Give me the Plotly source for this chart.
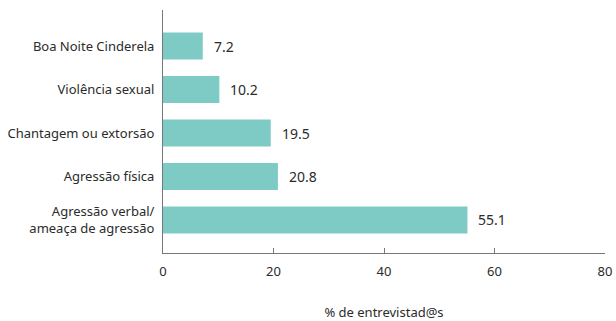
import plotly.graph_objects as go

# Categories listed bottom-to-top as drawn on the y axis
categories = [
    "Agressão verbal/<br>ameaça de agressão",
    "Agressão física",
    "Chantagem ou extorsão",
    "Violência sexual",
    "Boa Noite Cinderela",
]
values = [55.1, 20.8, 19.5, 10.2, 7.2]
x_ticks = [0, 20, 40, 60, 80]

bar_color = "#7ecbc6"
text_color = "#2b2b2b"
axis_color = "#777777"
font_family = "Noto Sans, Open Sans, sans-serif"

fig = go.Figure(
    go.Bar(
        x=values,
        y=categories,
        orientation="h",
        marker=dict(color=bar_color, line=dict(width=0)),
        width=0.62,
        hoverinfo="skip",
    )
)

# Value labels placed just past the end of each bar
for cat, val in zip(categories, values):
    fig.add_annotation(
        x=val, y=cat, text=f"{val:.1f}", showarrow=False,
        xanchor="left", yanchor="middle", xshift=9,
        font=dict(size=14, color=text_color, family=font_family),
    )

fig.update_layout(
    width=616, height=321,
    margin=dict(l=163, r=11, t=10, b=68),
    paper_bgcolor="white", plot_bgcolor="white",
    showlegend=False,
    font=dict(family=font_family, color=text_color, size=13),
    xaxis=dict(
        range=[0, 80], tickvals=x_ticks, ticktext=[str(t) for t in x_ticks],
        automargin=False,
        showgrid=False, zeroline=False,
        showline=True, linecolor=axis_color, linewidth=1,
        ticks="inside", ticklen=5, tickcolor=axis_color,
        ticklabelstandoff=6,
        tickfont=dict(size=13, color=text_color),
        title=dict(text="% de entrevistad@s", font=dict(size=13, color=text_color), standoff=38),
    ),
    yaxis=dict(
        range=[-0.76, 4.83],
        automargin=False,
        showgrid=False, zeroline=False,
        showline=True, linecolor=axis_color, linewidth=1,
        ticks="", ticklabelstandoff=5,
        tickfont=dict(size=13, color=text_color),
    ),
)

fig.write_html("out.html")
